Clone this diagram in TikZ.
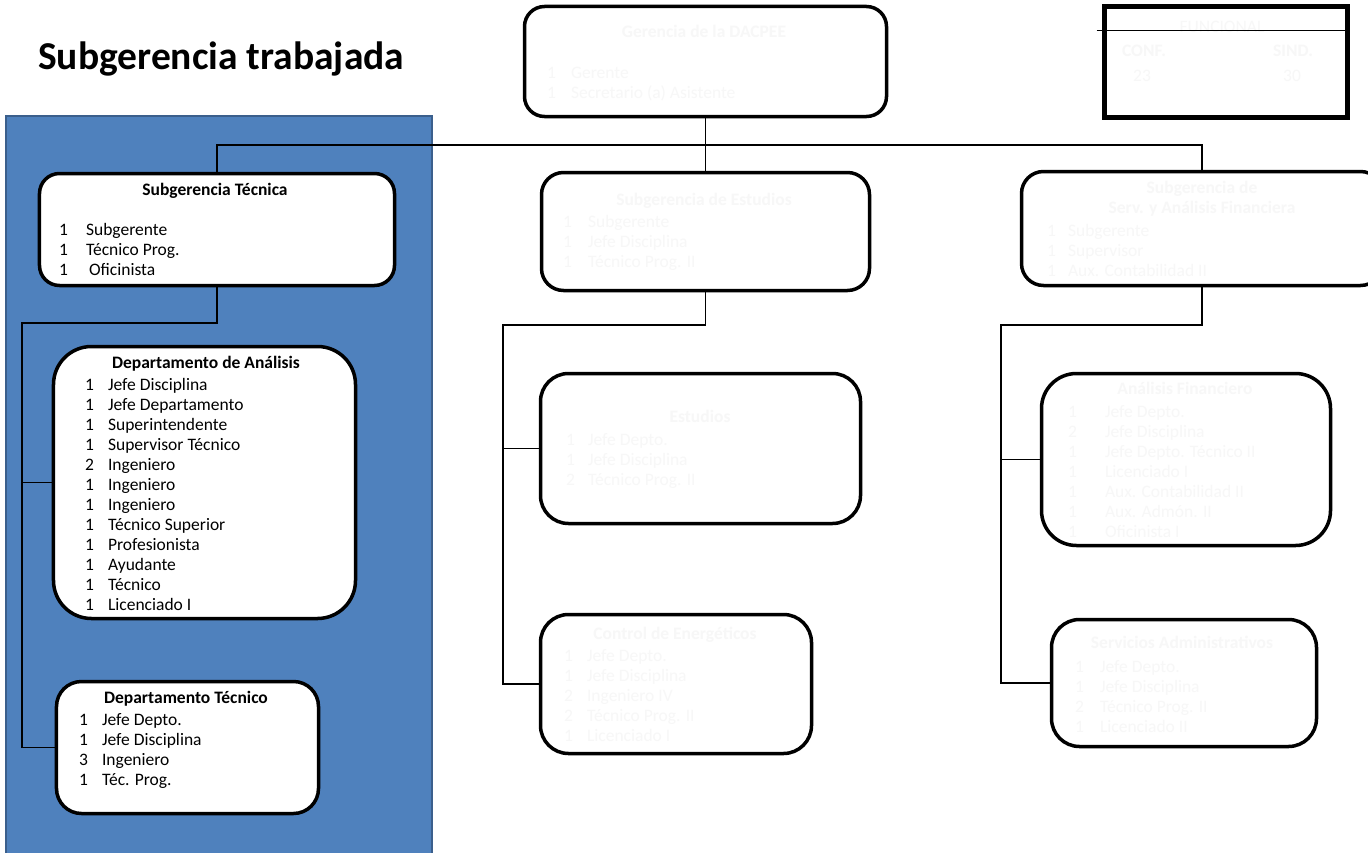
\documentclass[tikz,border=0pt]{standalone}
\usepackage{fontspec}
\setmainfont{Carlito}
\usetikzlibrary{positioning, calc}
\definecolor{panelblue}{HTML}{4F81BD}
\definecolor{paneledge}{HTML}{3B5F8C}
\colorlet{faint}{black!3}
% number column + job title column
\newcommand{\plazas}[2][14bp]{\begin{tabular}[t]{@{}l@{\hspace{#1}}l@{}}#2\end{tabular}}

\begin{document}
\begin{tikzpicture}[x=1bp, y=-1bp,
  every node/.style={font=\fontsize{17.5bp}{20bp}\selectfont, inner sep=0pt},
  orgbox/.style={draw, line width=3.5bp, fill=white},
  conn/.style={line width=1.4bp},
  head/.style={font=\fontsize{17.5bp}{20bp}\selectfont\bfseries, anchor=base},
  lista/.style={anchor=base west}]
\useasboundingbox (0,0) rectangle (1368,852);

% worked sub-management panel
\draw[fill=panelblue, draw=paneledge, line width=2bp] (6,116) rectangle (432,880);
\node[font=\fontsize{39.5bp}{44bp}\selectfont\bfseries, anchor=base west] (titulo) at (38,69) {Subgerencia trabajada};

% boxes
\node[orgbox, rounded corners=20bp, minimum width=362bp, minimum height=110bp] (ger) at (705.5,61.5) {};
\node[orgbox, line width=5bp, minimum width=243bp, minimum height=110bp] (func) at (1225.5,62) {};
\node[orgbox, rounded corners=20bp, minimum width=355bp, minimum height=112bp] (subtec) at (217,229.5) {};
\node[orgbox, rounded corners=22bp, minimum width=328bp, minimum height=118bp] (subest) at (705.5,231.5) {};
\node[orgbox, rounded corners=22bp, minimum width=361bp, minimum height=114bp] (subfin) at (1202,228.5) {};
\node[orgbox, rounded corners=38bp, minimum width=302bp, minimum height=272bp] (deptana) at (204.5,482.5) {};
\node[orgbox, rounded corners=25bp, minimum width=262bp, minimum height=132bp] (depttec) at (187.5,747.5) {};
\node[orgbox, rounded corners=28bp, minimum width=320bp, minimum height=150bp] (est) at (700.5,448.5) {};
\node[orgbox, rounded corners=28bp, minimum width=271bp, minimum height=139bp] (ctrl) at (676,684) {};
\node[orgbox, rounded corners=35bp, minimum width=289bp, minimum height=172bp] (anafin) at (1186,459.5) {};
\node[orgbox, rounded corners=28bp, minimum width=265bp, minimum height=127bp] (servadm) at (1184,683) {};

% connectors
\coordinate (bus) at (0,145);
\coordinate (tecbus) at (22,323);
\coordinate (estbus) at (503,325);
\coordinate (finbus) at (1001,325);
\draw[conn] (ger.south) -- (ger.south |- bus) -| (subtec.north);
\draw[conn] (ger.south |- bus) -| (subfin.north);
\draw[conn] (ger.south) -- (subest.north);
\draw[conn] (subtec.south) |- (tecbus) |- (depttec.west);
\draw[conn] (tecbus |- deptana.west) -- (deptana.west);
\draw[conn] (subest.south) |- (estbus) |- (ctrl.west);
\draw[conn] (estbus |- est.west) -- (est.west);
\draw[conn] (subfin.south) |- (finbus) |- (servadm.west);
\draw[conn] (finbus |- anafin.west) -- (anafin.west);

% staff table
\node[text=faint, anchor=base] (funch) at (1222,32) {FUNCIONAL};
\draw[conn] ($(func.north west)+(-5,26)$) -- ($(func.north east)+(-4,26)$);
\node[head, text=faint] (conf) at (1144,56) {CONF.};
\node[head, text=faint] (sind) at (1293,56) {SIND.};
\node[text=faint, anchor=base] (nconf) at (1142,81) {23};
\node[text=faint, anchor=base] (nsind) at (1292,81) {30};

% texts, faint boxes
\node[head, text=faint] (gerh) at (704,37) {Gerencia de la DACPEE};
\node[lista, text=faint] (gerl) at (547,78) {\plazas[15bp]{1 & Gerente\\ 1 & Secretario (a) Asistente}};
\node[head, text=faint] (subesth) at (704,205) {Subgerencia de Estudios};
\node[lista, text=faint] (subestl) at (563,227) {\plazas[16bp]{1 & Subgerente\\ 1 & Jefe Disciplina\\ 1 & Técnico Prog. II}};
\node[head, text=faint, anchor=center, align=center] (subfinh) at (1202,199) {Subgerencia de\\Serv. y Análisis Financiera};
\node[lista, text=faint] (subfinl) at (1047,236) {\plazas[12bp]{1 & Subgerente\\ 1 & Supervisor\\ 1 & Aux. Contabilidad II}};
\node[head, text=faint] (esth) at (700,422) {Estudios};
\node[lista, text=faint] (estl) at (566,445) {\plazas[13bp]{1 & Jefe Depto.\\ 1 & Jefe Disciplina\\ 2 & Técnico Prog. II}};
\node[head, text=faint] (anafinh) at (1185,394) {Análisis Financiero};
\node[lista, text=faint] (anafinl) at (1068,417) {\plazas[28bp]{1 & Jefe Depto.\\ 2 & Jefe Disciplina\\ 1 & Jefe Depto. Técnico II\\ 1 & Licenciado I\\ 1 & Aux. Contabilidad II\\ 1 & Aux. Admón. II\\ 1 & Oficinista I}};
\node[head, text=faint] (ctrlh) at (675,639) {Control de Energéticos};
\node[lista, text=faint] (ctrll) at (564,661) {\plazas{1 & Jefe Depto.\\ 1 & Jefe Disciplina\\ 2 & Ingeniero IV\\ 2 & Técnico Prog. II\\ 1 & Licenciado I}};
\node[head, text=faint] (servadmh) at (1182,648) {Servicios Administrativos};
\node[lista, text=faint] (servadml) at (1075,672) {\plazas[16bp]{1 & Jefe Depto.\\ 1 & Jefe Disciplina\\ 2 & Técnico Prog. II\\ 1 & Licenciado II}};

% texts, worked panel
\node[head] (subtech) at (215,195) {Subgerencia Técnica};
\node[lista] (subtecl) at (59,235) {\plazas[18bp]{1 & Subgerente\\ 1 & Técnico Prog.\\ 1 & \hspace{3bp}Oficinista}};
\node[head] (deptanah) at (206,368) {Departamento de Análisis};
\node[lista] (deptanal) at (85,390) {\plazas{1 & Jefe Disciplina\\ 1 & Jefe Departamento\\ 1 & Superintendente\\ 1 & Supervisor Técnico\\ 2 & Ingeniero\\ 1 & Ingeniero\\ 1 & Ingeniero\\ 1 & Técnico Superior\\ 1 & Profesionista\\ 1 & Ayudante\\ 1 & Técnico\\ 1 & Licenciado I}};
\node[head] (depttech) at (186,703) {Departamento Técnico};
\node[lista] (depttecl) at (79,725) {\plazas{1 & Jefe Depto.\\ 1 & Jefe Disciplina\\ 3 & Ingeniero\\ 1 & Téc. Prog.}};
\end{tikzpicture}
\end{document}
